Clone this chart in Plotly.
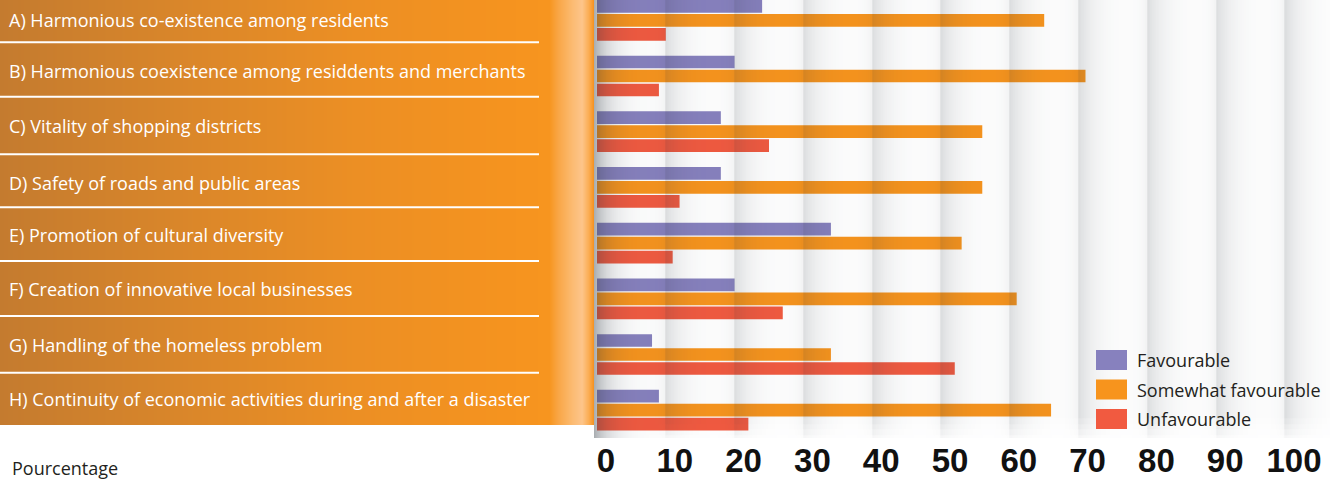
import numpy as np
import plotly.graph_objects as go

# ---------------- data ----------------
categories = [
    "A) Harmonious co-existence among residents",
    "B) Harmonious coexistence among residdents and merchants",
    "C) Vitality of shopping districts",
    "D) Safety of roads and public areas",
    "E) Promotion of cultural diversity",
    "F) Creation of innovative local businesses",
    "G) Handling of the homeless problem",
    "H) Continuity of economic activities during and after a disaster",
]
series_names = ["Favourable", "Somewhat favourable", "Unfavourable"]
favourable = [24, 20, 18, 18, 34, 20, 8, 9]
somewhat_favourable = [65, 71, 56, 56, 53, 61, 34, 66]
unfavourable = [10, 9, 25, 12, 11, 27, 52, 22]
series_values = [favourable, somewhat_favourable, unfavourable]
series_colors = ["#8781be", "#f7941d", "#f15a40"]
tick_values = [0, 10, 20, 30, 40, 50, 60, 70, 80, 90, 100]
tick_labels = [str(v) for v in tick_values]
axis_title = "Pourcentage"

# ---------------- layout geometry (pixels) ----------------
W, H = 1330, 482
MB = 44
PH = H - MB                 # plot area height
PANEL_R = 594               # right edge of the orange panel
ZERO_PX = 597               # x=0 position
PX_PER_UNIT = 6.88
ROW_PITCH = 55.7
FIRST_ROW_PX = 20.3
PANEL_BOTTOM = 425

x_range = [(PANEL_R - ZERO_PX) / PX_PER_UNIT, (W - ZERO_PX) / PX_PER_UNIT]
n = len(categories)
y_range = [(n - 1) + (PH - (FIRST_ROW_PX + (n - 1) * ROW_PITCH)) / ROW_PITCH,
           -FIRST_ROW_PX / ROW_PITCH]
positions = list(range(n))


def pxx(v):
    return v / W


def pxy(v):
    return 1 - v / PH


fig = go.Figure()

# ---------------- bars ----------------
for name, vals, col in zip(series_names, series_values, series_colors):
    fig.add_trace(go.Bar(
        name=name, y=positions, x=vals, orientation="h",
        marker=dict(color=col, line=dict(width=0)),
        customdata=categories,
        hovertemplate="%{customdata}<br>" + name + ": %{x}%<extra></extra>",
        showlegend=False, xaxis="x", yaxis="y",
    ))

# ---------------- shading overlay (bands + left shadow) ----------------
xe = np.arange(x_range[0] - 0.1, x_range[1] + 0.2, 0.1)
xc = (xe[:-1] + xe[1:]) / 2
bands = np.zeros_like(xc)
for g in tick_values[1:]:
    t = xc - g
    bands += np.where(t >= 0, 0.17 * np.exp(-t / 2.6), 0.06 * np.exp(t / 1.4))
shadow = 0.42 * np.exp(-(xc - x_range[0]) / 2.4)
ye = np.array([y_range[1] - 0.05, 7.05, 7.15, 7.25, 7.35, 7.45, 7.55, y_range[0] + 0.05])
yc = (ye[:-1] + ye[1:]) / 2
fade = np.clip((y_range[0] + 0.15 - yc) / (y_range[0] + 0.15 - 7.1), 0, 1)
z_overlay = np.clip(shadow[None, :] + bands[None, :] * fade[:, None], 0, 1).round(3)
fig.add_trace(go.Heatmap(
    x=xe, y=ye, z=z_overlay, xaxis="x3", yaxis="y3",
    colorscale=[[0, "rgba(45,55,65,0)"], [1, "rgba(45,55,65,1)"]],
    zmin=0, zmax=1, showscale=False, hoverinfo="skip", zsmooth=False,
))

# ---------------- left orange panel ----------------
pe = np.arange(0, PANEL_R + 1)
pc = (pe[:-1] + pe[1:]) / 2
fig.add_trace(go.Heatmap(
    x=pe, y=[0, PANEL_BOTTOM], z=[(pc / PANEL_R).round(4)],
    xaxis="x2", yaxis="y2", zmin=0, zmax=1, showscale=False,
    hoverinfo="skip", zsmooth=False,
    colorscale=[
        [0.0, "#c47b2f"], [0.30, "#d9862a"], [0.60, "#ec8f24"],
        [0.85, "#f5931f"], [0.925, "#f7951f"], [0.94, "#f9a646"],
        [0.965, "#fcbc74"], [0.98, "#fdc58a"], [0.99, "#fbb05a"],
        [1.0, "#f5921f"],
    ],
))

TEXT_FONT = "Open Sans"
annotations = []
shapes = []
label_centers = [20, 71, 126, 183, 235, 289, 345, 399]
for lab, yc_ in zip(categories, label_centers):
    annotations.append(dict(
        x=7, y=yc_, xref="x2", yref="y2", text=lab, showarrow=False,
        xanchor="left", yanchor="middle",
        font=dict(family=TEXT_FONT, size=18, color="white"),
    ))
separators = [42.3, 96.7, 154.3, 207.3, 261, 316, 372.7]
for s in separators:
    shapes.append(dict(type="line", xref="x2", yref="y2", x0=0, x1=539, y0=s, y1=s,
                       line=dict(color="white", width=2), layer="above"))

# ---------------- legend (custom) ----------------
for i, (name, col) in enumerate(zip(series_names, series_colors)):
    y0 = 350 + 29.5 * i
    shapes.append(dict(type="rect", xref="paper", yref="paper",
                       x0=pxx(1096), x1=pxx(1127), y0=pxy(y0), y1=pxy(y0 + 20),
                       fillcolor=col, line=dict(width=0), layer="above"))
    annotations.append(dict(
        x=pxx(1135), y=pxy(y0 + 10), xref="paper", yref="paper", text=name,
        showarrow=False, xanchor="left", yanchor="middle",
        font=dict(family=TEXT_FONT, size=18, color="#231f20"),
    ))

annotations.append(dict(
    x=pxx(10), y=pxy(468), xref="paper", yref="paper", text=axis_title,
    showarrow=False, xanchor="left", yanchor="middle",
    font=dict(family=TEXT_FONT, size=18, color="#231f20"),
))

fig.update_layout(
    width=W, height=H,
    margin=dict(l=0, r=0, t=0, b=MB, pad=0, autoexpand=False),
    paper_bgcolor="white", plot_bgcolor="white",
    barmode="group", bargap=0.246, bargroupgap=0.093,
    showlegend=False,
    xaxis=dict(domain=[PANEL_R / W, 1], range=x_range, tickmode="array",
               tickvals=tick_values, ticktext=tick_labels, showgrid=False,
               zeroline=False, showline=False, ticks="", ticklabelshift=9,
               ticklabelstandoff=0, automargin=False,
               tickfont=dict(family="Liberation Sans, Arial, sans-serif",
                             size=33, color="#111111", weight="bold")),
    yaxis=dict(range=y_range, visible=False, fixedrange=True, automargin=False),
    xaxis3=dict(overlaying="x", range=x_range, visible=False, domain=[PANEL_R / W, 1]),
    yaxis3=dict(overlaying="y", range=y_range, visible=False),
    xaxis2=dict(domain=[0, PANEL_R / W], range=[0, PANEL_R], visible=False, anchor="y2"),
    yaxis2=dict(domain=[0, 1], range=[PH, 0], visible=False, anchor="x2"),
    annotations=annotations, shapes=shapes,
)

fig.write_html("out.html")
